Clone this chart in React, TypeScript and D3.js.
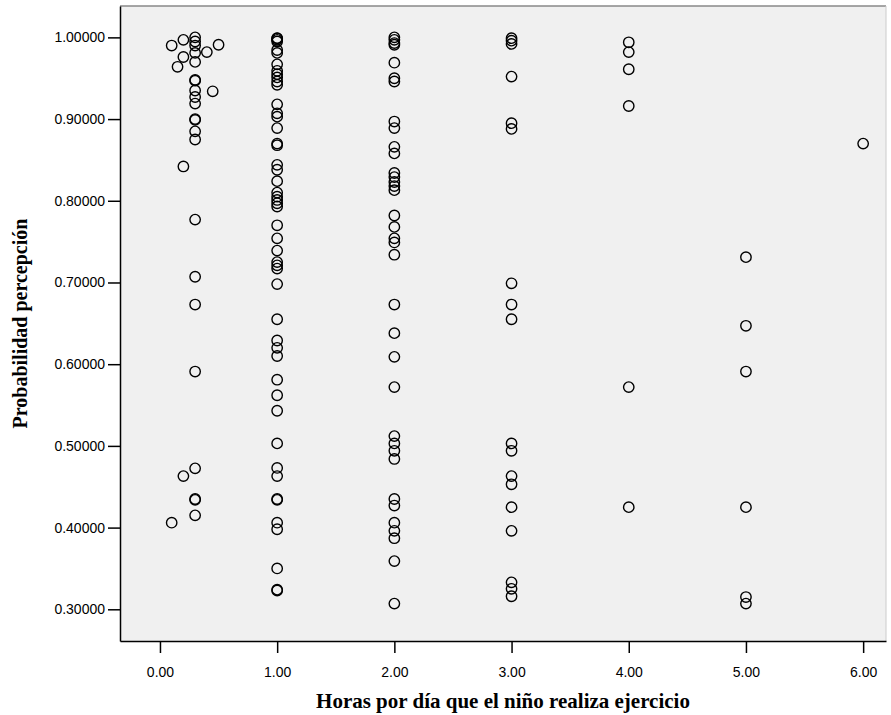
import React, { useEffect, useRef } from 'react';
import * as d3 from 'd3';

// Near-zero group: hours and probability read pairwise
const lowHours = [
	0.1, 0.2, 0.3, 0.3, 0.3, 0.3, 0.2, 0.4, 0.5, 0.15, 0.3, 0.3, 0.3, 0.45, 0.3, 0.3,
	0.3, 0.3, 0.3, 0.3, 0.3, 0.2, 0.3, 0.3, 0.3, 0.3, 0.3, 0.2, 0.3, 0.3, 0.3, 0.1,
];
const lowProb = [
	0.99, 0.997, 1.0, 0.995, 0.99, 0.981, 0.976, 0.982, 0.991, 0.964, 0.97, 0.948, 0.947, 0.934, 0.935, 0.927,
	0.919, 0.9, 0.899, 0.885, 0.875, 0.842, 0.777, 0.707, 0.673, 0.591, 0.4725, 0.463, 0.435, 0.434, 0.415, 0.406,
];

const prob1h = [
	0.999, 0.9988, 0.997, 0.995, 0.9845, 0.981, 0.967, 0.959, 0.955, 0.951, 0.946, 0.942, 0.918, 0.907, 0.903,
	0.889, 0.87, 0.868, 0.844, 0.838, 0.824, 0.81, 0.805, 0.801, 0.797, 0.793, 0.77, 0.754, 0.739, 0.725, 0.721,
	0.717, 0.698, 0.655, 0.629, 0.62, 0.61, 0.581, 0.562, 0.543, 0.503, 0.473, 0.463, 0.435, 0.434, 0.406, 0.398,
	0.35, 0.324, 0.323,
];
const prob2h = [
	1.0, 0.997, 0.993, 0.991, 0.969, 0.95, 0.946, 0.897, 0.889, 0.866, 0.858, 0.834, 0.829, 0.823, 0.818, 0.813,
	0.782, 0.768, 0.754, 0.749, 0.734, 0.673, 0.638, 0.609, 0.572, 0.512, 0.503, 0.494, 0.484, 0.435, 0.427, 0.406,
	0.396, 0.387, 0.359, 0.307,
];
const prob3h = [0.999, 0.996, 0.992, 0.952, 0.895, 0.888, 0.699, 0.673, 0.655, 0.503, 0.494, 0.463, 0.453, 0.425, 0.396, 0.333, 0.325, 0.316];
const prob4h = [0.994, 0.982, 0.961, 0.916, 0.572, 0.425];
const prob5h = [0.731, 0.647, 0.591, 0.425, 0.315, 0.307];
const prob6h = [0.87];

const xTicks = [0, 1, 2, 3, 4, 5, 6];
const yTicks = [0.3, 0.4, 0.5, 0.6, 0.7, 0.8, 0.9, 1.0];

const points = [
	...lowHours.map((h, i) => ({ h, p: lowProb[i] })),
	...prob1h.map((p) => ({ h: 1, p })),
	...prob2h.map((p) => ({ h: 2, p })),
	...prob3h.map((p) => ({ h: 3, p })),
	...prob4h.map((p) => ({ h: 4, p })),
	...prob5h.map((p) => ({ h: 5, p })),
	...prob6h.map((p) => ({ h: 6, p })),
];

const W = 891,
	H = 715,
	left = 120,
	right = 886,
	top = 6,
	bottom = 641;

const App = () => {
	const xRef = useRef<SVGGElement>(null),
		yRef = useRef<SVGGElement>(null);

	const x = d3.scaleLinear().domain([-0.341, 6.195]).range([left, right]),
		y = d3.scaleLinear().domain([0.2612, 1.0384]).range([bottom, top]);

	useEffect(() => {
		const xAxis = d3
			.axisBottom(x)
			.tickValues(xTicks)
			.tickFormat(d3.format('.2f'))
			.tickSize(12)
			.tickSizeOuter(0)
			.tickPadding(14);
		const yAxis = d3
			.axisLeft(y)
			.tickValues(yTicks)
			.tickFormat(d3.format('.5f'))
			.tickSize(12)
			.tickSizeOuter(0)
			.tickPadding(3);

		const gx = d3.select(xRef.current).call(xAxis as any);
		const gy = d3.select(yRef.current).call(yAxis as any);

		[gx, gy].forEach((g) => {
			g.selectAll('path.domain').attr('stroke', '#000').attr('stroke-width', 1.5);
			g.selectAll('line').attr('stroke', '#000').attr('stroke-width', 1.5);
			g.selectAll('text')
				.attr('fill', '#000')
				.style('font-family', '"Liberation Sans", Arial, sans-serif')
				.style('font-size', '14px');
		});
	}, []);

	const titleStyle = { fontFamily: '"Liberation Serif", "Times New Roman", serif', fontWeight: 'bold' as const };

	return (
		<svg width={W} height={H} style={{ position: 'absolute', left: 0, top: 0 }}>
			<rect x={0} y={0} width={W} height={H} fill="#fff" />
			<rect x={left} y={top} width={right - left} height={bottom - top} fill="#f0f0f0" />
			<line x1={left} x2={right} y1={top} y2={top} stroke="#888" strokeWidth={1.5} />
			<line x1={right} x2={right} y1={top} y2={bottom} stroke="#ccc" strokeWidth={1} />
			<g>
				{points.map((d, i) => (
					<circle key={i} cx={x(d.h)} cy={y(d.p)} r={5.2} fill="none" stroke="#000" strokeWidth={1.4} />
				))}
			</g>
			<g ref={xRef} transform={`translate(0,${bottom})`} />
			<g ref={yRef} transform={`translate(${left},0)`} />
			<text x={(left + right) / 2} y={708} textAnchor="middle" style={{ ...titleStyle, fontSize: 21 }}>
				Horas por día que el niño realiza ejercicio
			</text>
			<text
				transform={`translate(27,${(top + bottom) / 2}) rotate(-90)`}
				textAnchor="middle"
				style={{ ...titleStyle, fontSize: 20 }}
			>
				Probabilidad percepción
			</text>
		</svg>
	);
};

export default App;
